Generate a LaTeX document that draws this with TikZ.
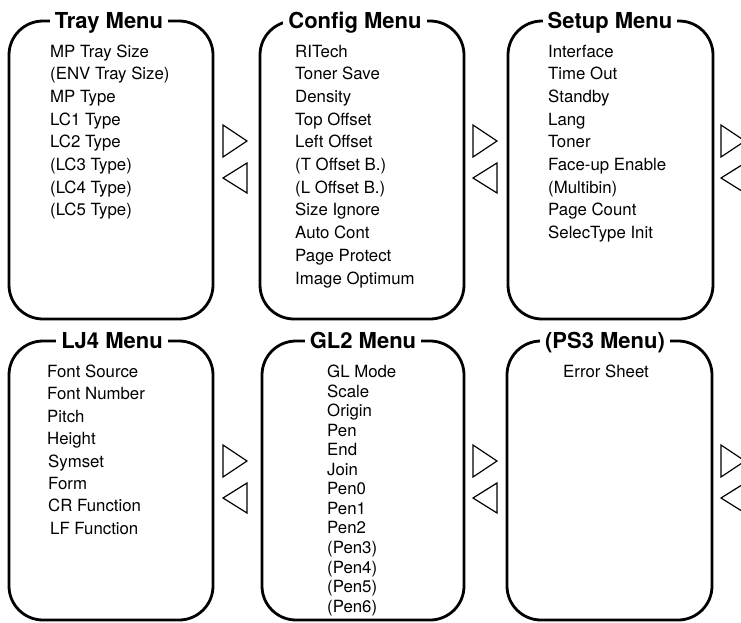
\documentclass[tikz,border=0pt]{standalone}
\usepackage{fontspec}
\setmainfont{TeX Gyre Heros}
\begin{document}
\begin{tikzpicture}[x=1pt,y=-1pt,
  menubox/.style={draw=black,line width=2.8pt,rounded corners=34pt,inner sep=0pt},
  menutitle/.style={fill=white,inner xsep=5pt,inner ysep=1pt,anchor=base,font=\fontsize{22}{25}\selectfont\bfseries},
  item/.style={anchor=base west,inner sep=0pt,font=\fontsize{16.8}{19}\selectfont},
  navtri/.style={draw=black,line width=1.2pt,line join=miter}]
\useasboundingbox (0,0) rectangle (741,622);

% boxes
\node[menubox,minimum width=204pt,minimum height=298pt] (tray)  at (111,170) {};
\node[menubox,minimum width=204pt,minimum height=298pt] (config) at (362,170) {};
\node[menubox,minimum width=205pt,minimum height=298pt] (setup) at (610.5,170) {};
\node[menubox,minimum width=204pt,minimum height=279pt] (lj)    at (111,480.5) {};
\node[menubox,minimum width=202pt,minimum height=279pt] (gl)    at (363,480.5) {};
\node[menubox,minimum width=205pt,minimum height=279pt] (ps)    at (609.5,480.5) {};

% titles
\node[menutitle] (trayT)   at (109,28) {Tray Menu};
\node[menutitle] (configT) at (355,28) {Config Menu};
\node[menutitle] (setupT)  at (610,28) {Setup Menu};
\node[menutitle] (ljT)     at (112,348) {LJ4 Menu};
\node[menutitle] (glT)     at (363,348) {GL2 Menu};
\node[menutitle] (psT)     at (605,348) {(PS3 Menu)};

% items
\foreach \t [count=\i] in {MP Tray Size,(ENV Tray Size),MP Type,LC1 Type,LC2 Type,(LC3 Type),(LC4 Type),(LC5 Type)}
  \node[item] (tray-\i) at (50,57+22.7*\i-22.7) {\t};
\foreach \t [count=\i] in {RITech,Toner Save,Density,Top Offset,Left Offset,(T Offset B.),(L Offset B.),Size Ignore,Auto Cont,Page Protect,Image Optimum}
  \node[item] (config-\i) at (295,57+22.7*\i-22.7) {\t};
\foreach \t [count=\i] in {Interface,Time Out,Standby,Lang,Toner,Face-up Enable,(Multibin),Page Count,SelecType Init}
  \node[item] (setup-\i) at (548,57+22.7*\i-22.7) {\t};
\foreach \t/\dx [count=\i] in {Font Source/0,Font Number/0,Pitch/0,Height/0,Symset/1,Form/1,CR Function/1,LF Function/3}
  \node[item] (lj-\i) at (47+\dx,377.5+22.4*\i-22.4) {\t};
\foreach \t [count=\i] in {GL Mode,Scale,Origin,Pen,End,Join,Pen0,Pen1,Pen2,(Pen3),(Pen4),(Pen5),(Pen6)}
  \node[item] (gl-\i) at (327,377.5+19.55*\i-19.55) {\t};
\node[item] (ps-1) at (563,377.5) {Error Sheet};

% navigation triangles
\foreach \gx in {223,473,721}{
  \draw[navtri] (\gx,125) -- (\gx+24,141) -- (\gx,157) -- cycle;
  \draw[navtri] (\gx+24,163) -- (\gx,178) -- (\gx+24,193) -- cycle;
  \draw[navtri] (\gx,445) -- (\gx+24,461) -- (\gx,477) -- cycle;
  \draw[navtri] (\gx+24,483) -- (\gx,498) -- (\gx+24,513) -- cycle;
}
\end{tikzpicture}
\end{document}
